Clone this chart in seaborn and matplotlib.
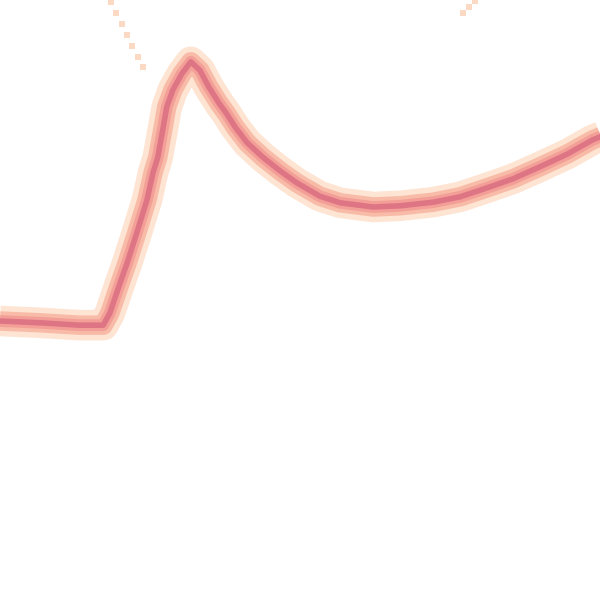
import pandas as pd
import matplotlib.pyplot as plt
import seaborn as sns

# main trace (0-100 both ways, y up)
trace_x = [0, 6.7, 13.3, 17.2, 18.3, 20, 21.2, 22.8, 24.5, 25.5, 26.3, 27.2, 27.8,
           28.8, 30.3, 31.8, 33.3, 34.8, 36.5, 37.8, 39.2, 41.2, 43.8, 46.7, 49.5,
           53.3, 56.7, 62.2, 66.7, 72.2, 76.7, 81.2, 85.5, 90, 94.5, 98.8, 100.8]
trace_y = [46.5, 46.2, 45.8, 45.8, 47.8, 52.8, 56.2, 61.2, 66.7, 71.2, 73.8, 78.8, 82.2,
           85, 87.7, 89.7, 88.3, 85.5, 82.8, 81, 78.8, 76.2, 73.8, 71.5, 69.5,
           67.3, 66.2, 65.5, 65.7, 66.3, 67.2, 68.7, 70.2, 72.2, 74.3, 76.7, 77.5]

# sparse stray points near the top edge
stray_x = [18.5, 19.3, 20.3, 21.2, 22, 23, 23.8, 79.2, 78.2, 77.2]
stray_y = [99.7, 97.8, 96, 94.2, 92.3, 90.5, 88.8, 99.8, 98.8, 97.8]

trace = pd.DataFrame({"x": trace_x, "y": trace_y})
stray = pd.DataFrame({"x": stray_x, "y": stray_y})

fig = plt.figure(figsize=(6, 6), dpi=100)
ax = fig.add_axes([0, 0, 1, 1])

# layered strokes: peach halo, salmon body, dark pink core
for lw, col in [(22, "#fee4d2"), (14, "#f8bba8"), (8.5, "#f39f97"), (4, "#de7585")]:
    sns.lineplot(data=trace, x="x", y="y", sort=False, estimator=None, ax=ax,
                 color=col, linewidth=lw, solid_joinstyle="round", solid_capstyle="butt")

sns.scatterplot(data=stray, x="x", y="y", ax=ax, marker="s", s=20,
                color="#fcd9c2", linewidth=0)

ax.set_xlim(0, 100)
ax.set_ylim(0, 100)
ax.axis("off")

fig.savefig("out.png", dpi=100, facecolor="white")
